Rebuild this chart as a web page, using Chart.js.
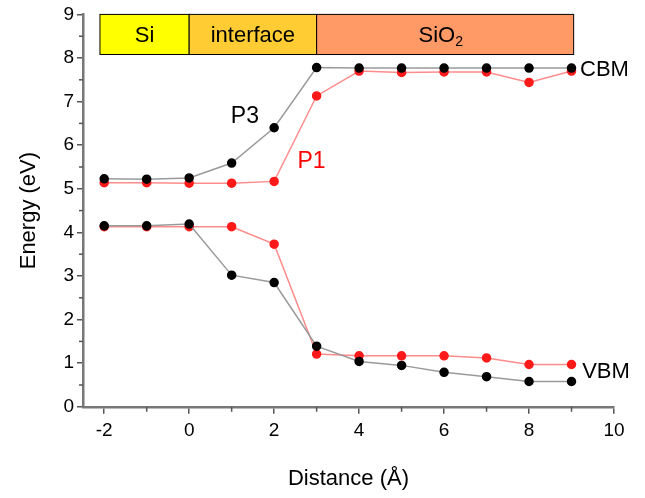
<!DOCTYPE html>
<html>
<head>
<meta charset="utf-8">
<script src="https://cdn.jsdelivr.net/npm/chart.js@4"></script>
<style>
  html, body { margin: 0; padding: 0; background: #fff; }
  #wrap { width: 645px; height: 498px; }
</style>
</head>
<body>
<div id="wrap"><canvas id="myChart" width="645" height="498"></canvas></div>
<script>
// distances (Angstrom)
const distance = [-2, -1, 0, 1, 2, 3, 4, 5, 6, 7, 8, 9];

// band edges (eV)
const p3Cbm = [5.23, 5.22, 5.25, 5.59, 6.40, 7.78, 7.77, 7.77, 7.77, 7.77, 7.77, 7.77];
const p1Cbm = [5.14, 5.14, 5.13, 5.13, 5.17, 7.13, 7.70, 7.67, 7.68, 7.68, 7.44, 7.70];
const p3Vbm = [4.15, 4.15, 4.19, 3.02, 2.85, 1.39, 1.04, 0.95, 0.79, 0.69, 0.58, 0.58];
const p1Vbm = [4.13, 4.13, 4.13, 4.13, 3.73, 1.21, 1.17, 1.17, 1.17, 1.12, 0.97, 0.97];

// region bar on top
const regionNames = ['Si', 'interface', 'SiO\u2082'];
const regionEdges = [-2.1, 0, 3, 9.05];
const regionColors = ['#ffff00', '#ffcc33', '#ff9966'];

const xTicks = [-2, 0, 2, 4, 6, 8, 10];
const yTicks = [0, 1, 2, 3, 4, 5, 6, 7, 8, 9];

const FONT = '"Liberation Sans", Arial, sans-serif';

function pts(ys) {
    return ys.map((y, i) => ({ x: distance[i], y: y }));
}

function series(ys, line, dot) {
    return {
        data: pts(ys),
        borderColor: line,
        borderWidth: 1.5,
        backgroundColor: dot,
        pointBackgroundColor: dot,
        pointBorderColor: dot,
        pointRadius: 4,
        pointHoverRadius: 4,
        tension: 0
    };
}

// region bar, minor ticks and text labels
const decorations = {
    id: 'decorations',
    afterDatasetsDraw(chart) {
        const c = chart.ctx;
        const xs = chart.scales.x;
        const ys = chart.scales.y;
        c.save();

        // minor ticks
        c.strokeStyle = '#555';
        c.lineWidth = 1.5;
        for (let v = -1; v <= 9; v += 2) {
            const px = xs.getPixelForValue(v);
            c.beginPath();
            c.moveTo(px, ys.bottom);
            c.lineTo(px, ys.bottom + 5);
            c.stroke();
        }
        for (let v = 0.5; v < 9; v += 1) {
            const py = ys.getPixelForValue(v);
            c.beginPath();
            c.moveTo(xs.left, py);
            c.lineTo(xs.left - 4, py);
            c.stroke();
        }

        // region bar
        const top = ys.getPixelForValue(9);
        const bot = ys.getPixelForValue(8.08);
        c.font = '22px ' + FONT;
        c.textAlign = 'center';
        c.textBaseline = 'middle';
        for (let i = 0; i < regionNames.length; i++) {
            const l = xs.getPixelForValue(regionEdges[i]);
            const r = xs.getPixelForValue(regionEdges[i + 1]);
            c.fillStyle = regionColors[i];
            c.fillRect(l, top, r - l, bot - top);
            c.strokeStyle = '#000';
            c.lineWidth = 1;
            c.strokeRect(l, top, r - l, bot - top);
            c.fillStyle = '#000';
            if (i === 2) {
                const cx = (l + r) / 2;
                c.font = '22px ' + FONT;
                c.textAlign = 'right';
                c.fillText('SiO', cx + 10, (top + bot) / 2 + 1);
                c.textAlign = 'left';
                c.font = '14px ' + FONT;
                c.fillText('2', cx + 10, (top + bot) / 2 + 8);
                c.textAlign = 'center';
                c.font = '22px ' + FONT;
            } else {
                c.fillText(regionNames[i], (l + r) / 2, (top + bot) / 2 + 1);
            }
        }

        // curve labels
        c.textBaseline = 'alphabetic';
        c.font = '23px ' + FONT;
        c.textAlign = 'left';
        c.fillStyle = '#000';
        c.fillText('P3', xs.getPixelForValue(0.98), ys.getPixelForValue(6.5));
        c.fillStyle = '#ff0000';
        c.fillText('P1', xs.getPixelForValue(2.55), ys.getPixelForValue(5.47));
        c.fillStyle = '#000';
        c.font = '22px ' + FONT;
        c.textBaseline = 'middle';
        c.fillText('CBM', xs.getPixelForValue(9.2), ys.getPixelForValue(7.72));
        c.fillText('VBM', xs.getPixelForValue(9.25), ys.getPixelForValue(0.8));
        c.restore();
    }
};

const ctx = document.getElementById('myChart').getContext('2d');
new Chart(ctx, {
    type: 'line',
    data: {
        // first dataset is drawn on top
        datasets: [
            series(p3Cbm, '#9a9a9a', '#000000'),
            series(p3Vbm, '#9a9a9a', '#000000'),
            series(p1Cbm, '#ff8c8c', '#ff1a1a'),
            series(p1Vbm, '#ff8c8c', '#ff1a1a')
        ]
    },
    options: {
        responsive: false,
        animation: false,
        layout: { padding: { left: 12, right: 31, top: 11, bottom: 2 } },
        plugins: { legend: { display: false }, tooltip: { enabled: false } },
        scales: {
            x: {
                type: 'linear',
                min: -2.5,
                max: 10,
                afterBuildTicks: s => { s.ticks = xTicks.map(v => ({ value: v })); },
                grid: { display: true, drawOnChartArea: false, drawTicks: true, tickLength: 7, color: '#555', lineWidth: 1.5 },
                border: { display: true, color: '#777', width: 2.5 },
                ticks: { color: '#000', font: { size: 19, family: FONT }, padding: 6, maxRotation: 0 },
                title: { display: true, text: 'Distance (\u00c5)', color: '#000', font: { size: 22, family: FONT }, padding: { top: 17 } }
            },
            y: {
                min: 0,
                max: 9,
                afterBuildTicks: s => { s.ticks = yTicks.map(v => ({ value: v })); },
                grid: { display: true, drawOnChartArea: false, drawTicks: true, tickLength: 6, color: '#555', lineWidth: 1.5 },
                border: { display: true, color: '#777', width: 2.5 },
                ticks: { color: '#000', font: { size: 19, family: FONT }, padding: 3 },
                title: { display: true, text: 'Energy (eV)', color: '#000', font: { size: 22, family: FONT }, padding: { bottom: 18 } }
            }
        }
    },
    plugins: [decorations]
});
</script>
</body>
</html>
